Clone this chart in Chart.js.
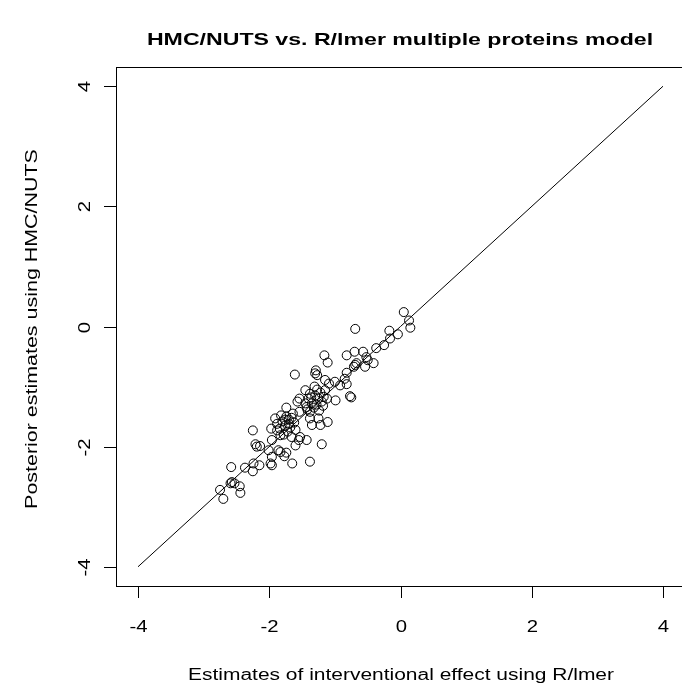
<!DOCTYPE html>
<html>
<head>
<meta charset="utf-8">
<script src="https://cdn.jsdelivr.net/npm/chart.js@4"></script>
<style>
  html, body { margin: 0; padding: 0; background: #fff; overflow: hidden; }
  #plot { position: absolute; left: 0; top: 0; }
</style>
</head>
<body>
<canvas id="plot" width="690" height="691"></canvas>
<script>
// Estimates from R/lmer (x) and posterior estimates from HMC/NUTS (y)
const lmerEst = [
  0.05, 0.13, 0.15, -0.17, -0.04, -0.16, -0.25, -0.37, -0.69, -1.16,
  -1.11, -0.82, -0.70, -0.57, -0.52, -0.50, -0.41, -0.54, -0.67, -0.71,
  -0.82, -0.85, -0.82, -0.77, -0.75, -0.92, -1.00, -1.09, -1.15, -1.29,
  -1.30, -1.61, -1.31, -1.45, -0.99, -1.15, -1.17, -1.12, -1.54, -1.57,
  -1.43, -1.38, -1.54, -1.74, -1.91, -1.11, -1.38, -1.25, -1.35, -1.22,
  -1.43, -1.20, -1.55, -1.60, -1.53, -1.66, -2.25, -1.97, -1.88, -1.83,
  -1.96, -2.21, -2.14, -2.19, -2.01, -1.86, -1.83, -1.74, -1.77, -1.65,
  -1.38, -1.96, -1.98, -1.96, -2.24, -2.15, -2.25, -2.37, -2.58, -2.57,
  -2.53, -2.45, -2.44, -2.75, -2.70, -2.59, -1.27, -0.69, -1.76,
  -1.30, -1.25, -1.35, -1.40, -1.28, -1.20, -1.38, -1.32, -1.22, -1.45,
  -1.27, -1.36, -1.18, -1.42, -1.24,
  -1.70, -1.76, -1.80, -1.68, -1.74, -1.62, -1.84, -1.72, -1.66, -1.78,
  -1.60, -1.88, -1.70, -1.64, -1.82
];
const hmcEst = [
  0.24, 0.10, -0.02, -0.07, -0.13, -0.20, -0.31, -0.36, -0.04, -0.48,
  -0.60, -0.48, -0.42, -0.42, -0.51, -0.56, -0.61, -0.67, -0.61, -0.67,
  -0.77, -0.87, -0.96, -1.16, -1.18, -0.98, -0.92, -0.95, -0.89, -0.73,
  -0.78, -0.80, -1.00, -1.06, -1.23, -1.06, -1.17, -1.20, -1.20, -1.25,
  -1.34, -1.42, -1.42, -1.35, -1.53, -1.59, -1.53, -1.53, -1.64, -1.64,
  -1.89, -1.96, -1.89, -1.98, -1.84, -1.84, -1.73, -1.70, -1.73, -1.81,
  -1.89, -1.96, -1.99, -2.00, -2.06, -2.06, -2.09, -2.10, -2.16, -2.28,
  -2.25, -2.17, -2.28, -2.31, -2.28, -2.31, -2.41, -2.35, -2.34, -2.59,
  -2.61, -2.66, -2.77, -2.72, -2.87, -2.61, -0.81, -0.64, -1.55,
  -1.15, -1.20, -1.28, -1.20, -1.30, -1.25, -1.12, -1.35, -1.10, -1.28,
  -1.05, -1.18, -1.32, -1.38, -1.40,
  -1.55, -1.65, -1.58, -1.68, -1.50, -1.60, -1.70, -1.75, -1.52, -1.80,
  -1.72, -1.62, -1.62, -1.45, -1.48
];
const tickValues = [-4, -2, 0, 2, 4];
const identityLine = [-4, 4];

const titleText = "HMC/NUTS vs. R/lmer multiple proteins model";
const xTitle = "Estimates of interventional effect using R/lmer";
const yTitle = "Posterior estimates using HMC/NUTS";

const points = lmerEst.map((v, i) => ({ x: v, y: hmcEst[i] }));
const linePts = identityLine.map(v => ({ x: v, y: v }));

const FONT = '"Liberation Sans", Arial, sans-serif';

// text in the reference is wider than plain Arial, so stretch it along its baseline
function wideText(ctx, text, x, y, angle, stretch) {
  ctx.save();
  ctx.translate(x, y);
  ctx.rotate(angle);
  ctx.scale(stretch, 1);
  ctx.fillText(text, 0, 0);
  ctx.restore();
}

// R base graphics look: box, outward ticks, rotated y labels
const rAxes = {
  id: "rAxes",
  afterDraw(chart) {
    const ctx = chart.ctx;
    const a = chart.chartArea;
    const xs = chart.scales.x, ys = chart.scales.y;
    ctx.save();
    ctx.strokeStyle = "#000";
    ctx.lineWidth = 1;
    ctx.strokeRect(116.5, 67.5, a.right - 116, 586 - 67);

    ctx.fillStyle = "#000";
    ctx.font = "16px " + FONT;
    ctx.textAlign = "center";
    ctx.textBaseline = "middle";
    tickValues.forEach(v => {
      const px = Math.round(xs.getPixelForValue(v)) + 0.5;
      ctx.beginPath();
      ctx.moveTo(px, 586);
      ctx.lineTo(px, 598);
      ctx.stroke();
      wideText(ctx, String(v), px, 628, 0, 1.27);

      const py = Math.round(ys.getPixelForValue(v)) + 0.5;
      ctx.beginPath();
      ctx.moveTo(116, py);
      ctx.lineTo(104, py);
      ctx.stroke();
      wideText(ctx, String(v), 86, py, -Math.PI / 2, 1.27);
    });

    wideText(ctx, xTitle, 401, 676, 0, 1.31);
    wideText(ctx, yTitle, 33, 329, -Math.PI / 2, 1.34);

    ctx.font = "bold 17px " + FONT;
    wideText(ctx, titleText, 400, 40, 0, 1.36);
    ctx.restore();
  }
};

new Chart(document.getElementById("plot"), {
  type: "scatter",
  data: {
    datasets: [
      {
        type: "line",
        data: linePts,
        borderColor: "#000",
        borderWidth: 1,
        pointRadius: 0,
        fill: false
      },
      {
        data: points,
        borderColor: "#000",
        backgroundColor: "rgba(0,0,0,0)",
        borderWidth: 1,
        pointRadius: 4.5,
        pointHoverRadius: 4.5
      }
    ]
  },
  options: {
    responsive: false,
    animation: false,
    devicePixelRatio: 1,
    layout: { padding: { left: 117, top: 67, right: 6, bottom: 105 } },
    plugins: { legend: { display: false }, tooltip: { enabled: false } },
    scales: {
      x: { type: "linear", min: -4.32, max: 4.32, display: false },
      y: { type: "linear", min: -4.32, max: 4.32, display: false }
    }
  },
  plugins: [rAxes]
});
</script>
</body>
</html>
